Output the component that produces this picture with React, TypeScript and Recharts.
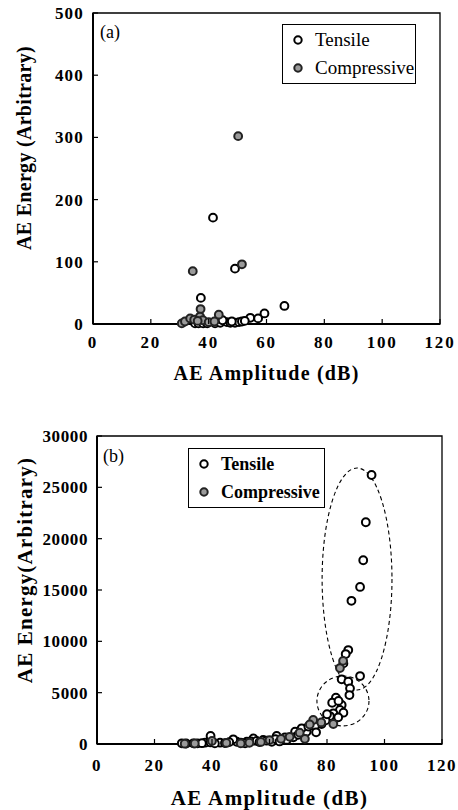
import React from 'react';
import { ScatterChart, Scatter, XAxis, YAxis, ReferenceArea, Legend, Label } from 'recharts';

const FONT = "'Liberation Serif', 'Times New Roman', Times, serif";

// ---------- tick labels ----------
const xTicks = [0, 20, 40, 60, 80, 100, 120];
const yTicksA = [0, 100, 200, 300, 400, 500];
const yTicksB = [0, 5000, 10000, 15000, 20000, 25000, 30000];
const seriesOrder = ['Tensile', 'Compressive'];

// ---------- chart (a) data: [amplitude dB, energy] ----------
const tensileA = [
  [41.5, 171], [49.1, 89], [37.3, 42], [66.2, 29], [59.3, 17], [54.4, 10], [57.1, 9],
  [35.3, 1], [36.5, 1], [38.1, 1], [39.5, 1], [42.2, 1], [44, 2], [46.3, 3], [47.5, 2],
  [49.1, 2], [50.5, 3], [51.5, 4], [52.5, 5], [44.8, 6], [48, 4],
];
const compressiveA = [
  [50.2, 302], [34.5, 85], [51.5, 96], [37.2, 24], [43.5, 15], [30.7, 1], [31.8, 4],
  [33.6, 9], [35, 7], [37, 12], [38, 6], [36.2, 5], [40, 3], [42, 4],
];

// ---------- chart (b) data ----------
const tensileB = [
  [95.5, 26200], [93.5, 21600], [92.6, 17900], [91.5, 15300], [88.5, 13950], [87.4, 9150],
  [86.5, 8760], [85.7, 7850], [91.5, 6620], [85.1, 6300], [87.4, 6070], [88, 5420],
  [87.8, 4770], [83.1, 4510], [81.8, 4020], [85.1, 3800], [84.5, 3310], [82.2, 2990],
  [81, 2720], [85.7, 3050], [83.9, 2600], [78.1, 1950], [75.8, 1750], [76.2, 1140],
  [72.9, 1200], [71.2, 1530], [68.9, 1200], [68.3, 650], [65.4, 650], [62.5, 780],
  [60.8, 220], [57.8, 390], [54.4, 550], [52.1, 220], [48.6, 220], [47.4, 460], [42.8, 130],
  [39.5, 780], [37.6, 130], [33.5, 70], [29.5, 70], [31, 50], [35, 60], [36.5, 80],
  [39.5, 150], [41, 60], [44.5, 90], [46, 180], [50, 120], [51.5, 60], [53.5, 250],
  [55.5, 300], [56.5, 180], [59, 320], [62, 480], [63.5, 250], [66, 400], [70, 900],
  [73.5, 1700], [79.5, 2300], [80, 2900], [84, 4200],
];
const compressiveB = [
  [84.5, 7400], [85.6, 8100], [82.2, 1950], [75.2, 2340], [72.3, 500], [70.5, 1100],
  [67, 700], [64, 500], [60, 380], [57, 200], [53, 120], [50, 60], [45, 100], [40, 300],
  [34, 50], [30.5, 30], [74, 1900], [78, 2100],
];

// ---------- dashed ellipse annotations (bounding boxes in data units) ----------
const ellipseBig = { x1: 78.3, x2: 102.6, y1: 5260, y2: 26880 };
const ellipseSmall = { x1: 76.5, x2: 94.6, y1: 1760, y2: 6620 };

const toPoints = (arr: number[][]) => arr.map(([x, y]) => ({ x, y }));

const seriesStyle: Record<string, { fill: string; stroke: string }> = {
  Tensile: { fill: '#ffffff', stroke: '#000000' },
  Compressive: { fill: '#9a9a9a', stroke: '#222222' },
};

const markerShape = (name: string) => (p: any) => (
  <circle cx={p.cx} cy={p.cy} r={3.9} fill={seriesStyle[name].fill} stroke={seriesStyle[name].stroke} strokeWidth={2} />
);

const XTick = (labelOffset: number, fontSize: number, spacing: number) => (p: any) => {
  const axisY = p.y - 8;
  return (
    <g>
      <line x1={p.x} x2={p.x} y1={axisY} y2={axisY - 5} stroke="#000" strokeWidth={1.2} />
      <text x={p.x} y={axisY + labelOffset} textAnchor="middle"
        style={{ fontFamily: FONT, fontWeight: 700, fontSize, letterSpacing: spacing }} fill="#000">{p.payload.value}</text>
    </g>
  );
};

const YTick = (fontSize: number, spacing: number) => (p: any) => {
  const axisX = p.x + 8;
  return (
    <g>
      <line x1={axisX} x2={axisX + 5} y1={p.y} y2={p.y} stroke="#000" strokeWidth={1.2} />
      <text x={axisX - 9} y={p.y} dy="0.35em" textAnchor="end"
        style={{ fontFamily: FONT, fontWeight: 700, fontSize, letterSpacing: spacing }} fill="#000">{p.payload.value}</text>
    </g>
  );
};

const yTitle = (text: string, xPos: number, centerFromTop: number, fontSize: number, spacing: number) => (p: any) => {
  const vb = p.viewBox;
  const cy = vb.y + centerFromTop;
  return (
    <text x={xPos} y={cy} transform={`rotate(-90, ${xPos}, ${cy})`} textAnchor="middle" dy="0.35em"
      style={{ fontFamily: FONT, fontWeight: 700, fontSize, letterSpacing: spacing }} fill="#000">{text}</text>
  );
};

const xTitle = (text: string, dy: number, fontSize: number, spacing: number) => (p: any) => {
  const vb = p.viewBox;
  return (
    <text x={vb.x + vb.width / 2} y={vb.y + vb.height / 2 + dy} textAnchor="middle" dy="0.35em"
      style={{ fontFamily: FONT, fontWeight: 700, fontSize, letterSpacing: spacing }} fill="#000">{text}</text>
  );
};

const legendContent = (bold: boolean, fontSize: number) => (props: any) => {
  const items = [...(props.payload || [])].sort(
    (a: any, b: any) => seriesOrder.indexOf(a.value) - seriesOrder.indexOf(b.value));
  return (
    <div style={{ border: '1.5px solid #000', background: '#fff', padding: '1px 0 1px 8px', fontFamily: FONT,
      fontSize, fontWeight: bold ? 'bold' : 'normal', lineHeight: '28px', boxSizing: 'border-box' }}>
      {items.map((it: any) => (
        <div key={it.value} style={{ display: 'flex', alignItems: 'center', whiteSpace: 'nowrap' }}>
          <svg width={22} height={12}>
            <circle cx={7} cy={6} r={3.7} fill={seriesStyle[it.value].fill} stroke={seriesStyle[it.value].stroke} strokeWidth={2} />
          </svg>
          <span style={{ marginLeft: 2 }}>{it.value}</span>
        </div>
      ))}
    </div>
  );
};

const ellipseShape = (p: any) => (
  <ellipse cx={p.x + p.width / 2} cy={p.y + p.height / 2} rx={p.width / 2} ry={p.height / 2}
    fill="none" stroke="#000" strokeWidth={1.1} strokeDasharray="4 3" />
);

export default function App() {
  return (
    <div style={{ position: 'absolute', left: 0, top: 0, width: 458, height: 810, background: '#fff' }}>
      <div style={{ position: 'absolute', left: 0, top: 0 }}>
        <ScatterChart width={458} height={400} margin={{ top: 13, right: 18, bottom: 26, left: 0 }}>
          <XAxis type="number" dataKey="x" domain={[0, 120]} ticks={xTicks} interval={0} height={50}
            axisLine={{ stroke: '#000', strokeWidth: 2 }} tickLine={false} tickSize={0} tickMargin={8}
            tick={XTick(24, 17, 1.8)}>
            <Label content={xTitle('AE Amplitude (dB)', 24, 20, 1.2)} />
          </XAxis>
          <YAxis type="number" dataKey="y" domain={[0, 500]} ticks={yTicksA} interval={0} width={93}
            axisLine={{ stroke: '#000', strokeWidth: 2 }} tickLine={false} tickSize={0} tickMargin={8}
            tick={YTick(17, 1.2)}>
            <Label content={yTitle('AE Energy (Arbitrary)', 24, 135, 20, 0.3)} />
          </YAxis>
          <ReferenceArea x1={0} x2={120} y1={0} y2={500} fill="none" stroke="#000" strokeWidth={1.3} fillOpacity={0} />
          <Scatter name="Tensile" data={toPoints(tensileA)} isAnimationActive={false} shape={markerShape('Tensile')} fill="#fff" />
          <Scatter name="Compressive" data={toPoints(compressiveA)} isAnimationActive={false} shape={markerShape('Compressive')} fill="#9a9a9a" />
          <Legend layout="horizontal" verticalAlign="middle" align="center" content={legendContent(false, 19)}
            wrapperStyle={{ position: 'absolute', left: 282, top: 24, width: 134 }} />
        </ScatterChart>
      </div>
      <div style={{ position: 'absolute', left: 100, top: 22, fontFamily: FONT, fontSize: 18, lineHeight: '20px' }}>(a)</div>

      <div style={{ position: 'absolute', left: 0, top: 410 }}>
        <ScatterChart width={458} height={400} margin={{ top: 26, right: 16, bottom: 16, left: 0 }}>
          <XAxis type="number" dataKey="x" domain={[0, 120]} ticks={xTicks} interval={0} height={50}
            axisLine={{ stroke: '#000', strokeWidth: 2 }} tickLine={false} tickSize={0} tickMargin={8}
            tick={XTick(27, 17, 1.5)}>
            <Label content={xTitle('AE Amplitude (dB)', 29, 21, 1.4)} />
          </XAxis>
          <YAxis type="number" dataKey="y" domain={[0, 30000]} ticks={yTicksB} interval={0} width={97}
            axisLine={{ stroke: '#000', strokeWidth: 2 }} tickLine={false} tickSize={0} tickMargin={8}
            tick={YTick(17, 0.6)}>
            <Label content={yTitle('AE Energy(Arbitrary)', 25, 134, 21, 1.2)} />
          </YAxis>
          <ReferenceArea x1={0} x2={120} y1={0} y2={30000} fill="none" stroke="#000" strokeWidth={1.3} fillOpacity={0} />
          <ReferenceArea {...ellipseBig} shape={ellipseShape} />
          <ReferenceArea {...ellipseSmall} shape={ellipseShape} />
          <Scatter name="Tensile" data={toPoints(tensileB)} isAnimationActive={false} shape={markerShape('Tensile')} fill="#fff" />
          <Scatter name="Compressive" data={toPoints(compressiveB)} isAnimationActive={false} shape={markerShape('Compressive')} fill="#9a9a9a" />
          <Legend layout="horizontal" verticalAlign="middle" align="center" content={legendContent(true, 18)}
            wrapperStyle={{ position: 'absolute', left: 188, top: 38, width: 137 }} />
        </ScatterChart>
      </div>
      <div style={{ position: 'absolute', left: 103, top: 446, fontFamily: FONT, fontSize: 18, lineHeight: '20px' }}>(b)</div>
    </div>
  );
}
